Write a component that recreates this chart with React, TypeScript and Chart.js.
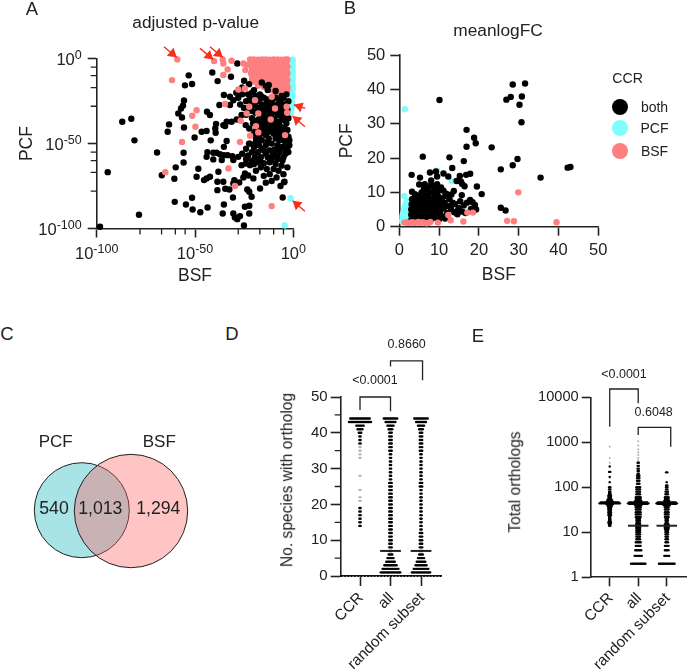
import React, { useEffect, useRef } from "react";
import { Chart, registerables } from "chart.js";
Chart.register(...registerables);

const FONT = '"Liberation Sans", Arial, sans-serif';
const INK = "#222222";
const BLACK = "#000000";
const CYAN = "#7ffdfd";
const PINK = "#fd7f7f";

// ---------- Panel A: exponents of the adjusted p-values (BSF, PCF)
const aBothX = [-98.3,-94.4,-87,-82.4,-80.8,-78.5,-69.3,-66.9,-59.8,-60.5,-60.3,-63.2,-63.9,-56.6,-55.6,-56.1,-57.1,-58.5,-55.6,-55.8,-55.8,-54.6,-53.2,-55.1,-51.5,-51.2,-51.5,-47.3,-43.6,-50.2,-46.6,-44.1,-42,-43.9,-42.4,-39.3,-39.7,-39.5,-48.3,-49.2,-45.4,-44.1,-42.4,-43.7,-44.1,-40.7,-39,-37.3,-36.4,-40.7,-38.6,-35.6,-38.6,-34.6,-32.5,-35.3,-35.9,-30.5,-29.7,-28.5,-27.1,-25.1,-24.6,-22.4,-22.4,-30.7,-23.4,-22.4,-21.2,-16.9,-20.3,-24.6,-22.9,-25.4,-30,-27.5,-30.5,-38.1,-35.3,-33.9,-35.3,-33.4,-31,-30.5,-28,-26.3,-24.1,-22,-35.6,-33.9,-31.4,-34.7,-37.6,-35.3,-32.2,-32.2,-28.8,-26.3,-24.2,-22.4,-19.5,-15.3,-28.5,-41.2,-38.5,-31.7,
-25,-22.5,-26,-20,-16,-14,-12.5,-9,-13,-21,-17,-29,-30.5,-28,-26,-24,-22,-19,-17.5,-15,-13,-11,-9,-7,-5,-3.5,-27,-25,-21,-18,-16,-14,-12,-9,-7,-5,-2.5,-6,-20,-23,
-19,-16,-14,-12,-10,-8,-6,-4,-2.5,-21,-18,-15,-13,-9.5,-7,-5,-3.5,-17,-14,-11,-9,-6.5,-4.5,-12.5,-15,-10,-7.5,-5,-2.5,-18.5,-20.5,-13,-8,-11,-6,
-19,-16,-12.5,-9,-7,-4,-2,-22.5,-20,-17.5,-14,-11,-8,-5.5,-3,-24,-21,-18,-15,-12,-9.5,-7,-4,-26,-23,-19.5,-16.5,-13,-10.5,-8,-5.5,-21,-18,-15,-12,-9,-6,-3,-16.5,-13.5,-10,-7.5,-19,-5,-12,-15,-8.5,-4.5,-11,-14,-6.5,-5.4,-4.7,
-23,-21.5,-19.5,-18,-16.5,-15,-13.5,-12,-10.5,-10,-8,-6.5,-4.5,-3,-24,-20.5,-17,-14.5,-11.5,-8.5,-5.5,-4,-19,-15.5,-12,-9,-7,-3,-16,-13,-10.5,-6,-4,-14,-9,-17.5,-20,-7.5,-5,-2,
-22,-19,-16,-13,-10,-7,-4,-24,-20,-17,-14,-11,-8,-5,-2.5];
const aBothY = [-99,-66.8,-37.1,-35.4,-48.1,-91.9,-55.2,-68.6,-64,-70.7,-84.3,-38.7,-43,-34.6,-24.6,-27.5,-29.3,-32.2,-40.5,-55.4,-61.1,-85.9,-9.8,-15.7,-14.9,-88.8,-81.9,-90.4,-87.6,-46.4,-43,-42.6,-48.1,-31.2,-33.2,-38.5,-41.1,-43.6,-64.8,-69.5,-71.5,-70.5,-69.5,-55,-57.8,-55.4,-55.4,-56.2,-59.7,-59.3,-72.5,-72.5,-77.4,-76.6,-77,-85.9,-91.2,-91.2,-93.5,-94.5,-92.7,-98.2,-87.2,-86.6,-91.2,-81.7,-77,-78.4,-81.3,-76.4,-70.5,-67.6,-68.8,-69.9,-71.5,-72.9,-73.5,-66.6,-56.8,-48.5,-51.9,-56.8,-57.4,-59.7,-57.8,-62.7,-61.7,-62.7,-39.1,-37.1,-37.1,-39.7,-27.3,-21.4,-22.4,-27.3,-35.8,-33.2,-39.1,-41.1,-43,-42,-2.8,-8.1,-13.2,-10.6,
-13,-15,-17,-18.5,-14,-16,-15.5,-19,-18.5,-20,-21,-20,-24.5,-23,-21,-25,-23,-22,-25,-23,-24,-26,-23,-25,-23,-21,-27,-29,-28,-29,-27,-28,-30,-28,-29,-27,-25,-22,-26.5,-31,
-32,-31,-33,-32,-31.5,-33,-31,-33,-35,-35,-36,-35,-37,-36,-37,-36,-38,-39,-40,-39,-41,-40,-41,-43,-44,-44,-44,-45,-46,-41,-38,-34.5,-38.5,-34.5,-34,
-47,-48,-47,-47,-48,-49,-51,-50,-52,-51,-51,-50,-51,-52,-52.5,-53,-55,-55,-54,-54,-53.5,-55,-56,-56,-57,-58,-58,-58,-57,-59,-60,-60,-61,-61.5,-61,-62,-63,-64,-64,-65,-65,-66,-66,-68,-68,-69,-70,-72.5,-72,-73,-75,-81.7,-72.7,
-21,-25,-27,-24,-22,-29,-26,-28,-24,-31,-27,-24,-30,-30,-33,-31,-33,-30,-33,-30,-33,-27,-37,-38,-36,-39,-41,-42,-42,-41,-41,-43,-44,-45,-45,-46,-44,-47,-48,-48,
-50,-49,-53,-49,-55,-53,-54,-59,-62,-60,-56,-59,-57,-58,-55];
const aPcfX = [-0.3,-0.4,-0.3,-0.5,-0.3,-0.4,-0.3,-0.5,-0.4,-0.3,-0.6,-0.4,-0.8,-1,-0.5,-1.2,-0.7,-1.5,-1,-1.8,-1.2,-2,-1.4,-4.4];
const aPcfY = [-0.5,-2,-4,-6,-8,-10,-12,-14,-16,-18,-20,-21.5,-23,-24.5,-25.5,-27,-28,-29,-30,-31,-32,-33,-82.1,-98.2];
const aBlockX = [-22,-20.2,-18,-16,-14,-12,-10,-8,-6,-4,-3,-21.5,-19.5,-17.5,-15.5,-13.5,-11.5,-9.5,-7.5,-5.5,-3.5,-21,-19,-17,-15,-13,-11,-9,-7,-5,-3,-21,-19.5,-17.5,-15.5,-13.5,-11.5,-9.5,-7.5,-5.5,-3.5,-21.5,-19,-17,-15,-13,-11,-9,-7,-5,-3,-21,-19.5,-17.5,-15.5,-13.5,-11.5,-9.5,-7.5,-5.5,-3.5,-21,-19,-17,-15,-13,-11,-9,-7,-5,-3,-20,-17.5,-15.5,-13.5,-11.5,-9.5,-7.5,-5.5,-3.5,-18,-15,-13,-11,-9,-7,-5,-3,-13,-11,-9,-7,-5,-3,-9,-6,-3.5];
const aBlockY = [-0.5,-0.4,-0.6,-0.4,-0.5,-0.6,-0.4,-0.5,-0.6,-0.4,-0.5,-2.5,-2.4,-2.6,-2.5,-2.4,-2.6,-2.5,-2.4,-2.6,-2.5,-4.5,-4.6,-4.4,-4.5,-4.6,-4.4,-4.5,-4.6,-4.4,-4.5,-6.5,-6.4,-6.6,-6.5,-6.4,-6.6,-6.5,-6.4,-6.6,-6.5,-8.5,-8.6,-8.4,-8.5,-8.6,-8.4,-8.5,-8.6,-8.4,-8.5,-10.5,-10.4,-10.6,-10.5,-10.4,-10.6,-10.5,-10.4,-10.6,-10.5,-12.5,-12.6,-12.4,-12.5,-12.6,-12.4,-12.5,-12.6,-12.4,-12.5,-13.5,-14.4,-14.6,-14.5,-14.4,-14.6,-14.5,-14.4,-14.6,-16,-16.5,-16.4,-16.6,-16.5,-16.4,-16.6,-16.5,-18,-18.5,-18.4,-18.6,-18.5,-18.4,-20,-20.4,-20.6];
const aBsfX = [-59,-61.7,-49.2,-51.4,-49.8,-56.6,-65.1,-40.3,-35.9,-35.6,-31.4,-33.4,-35.6,-24.4,-23.4,-25.4,-34.7,-28,-26.8,-23.7,-19.5,-22.4,-19,-22,-17.8,-27.1,-33,-29.7,-11,-4.2,-3.1,-9.3,-11.5,-17.8,-3.4,-11,-24.6];
const aBsfY = [-0.4,-12.6,-30.3,-33.6,-40.1,-49.1,-66.8,-1.4,-0.4,-2.8,-1.2,-6.3,-9.6,-6.7,-3.7,-2.8,-26.7,-18.1,-36.5,-32.2,-24.4,-28.3,-39.7,-45.4,-43.4,-49.1,-64.6,-75,-86.8,-45,-31.8,-29.3,-35.8,-32.2,-28.3,-22.4,-17.5];
const aArrowTailX = [-65.8,-47.5,-42.4,6.1,5.9,5.9];
const aArrowTailY = [7.07,6.1,7.07,-29.3,-40.1,-89.8];
const aArrowTipX = [-59.3,-40.7,-35.9,0.34,-0.34,-0.34];
const aArrowTipY = [0.8,-0.4,0.8,-27.1,-33.8,-83.7];
const aMajor = [-100,-50,0];
const aMinorExp = [-78,-67,-60,-55,-28,-17,-10,-5];

// ---------- Panel B: meanlogFC (BSF, PCF)
const bBothX = [28.5,31.6,30.8,28,26.9,10.1,30.2,30.7,16.9,18.8,19.2,16.9,23.2,5.9,12.6,16.2,29.7,28.5,25.5,13.3,35.5,42.3,43,3.1,5.2,7.7,9.2,11.1,9.5,12.3,14.4,15.2,16.8,17.8,15.5,15.8,16.4,19.5,20.7,25.5,26.7,5,6.4,8,9.5,6.9,8.5,3.2,4.2,11.1,13.7,13.1,15.7,17.8,18.4,19,19.3,11.5,
3,3,3,3.1,3.2,3.5,3.7,3.6,4,4.2,3.9,4.3,4.5,4.4,4.7,4.9,5.2,5.2,5.4,5.5,5.7,5.9,5.6,6,6.2,6.3,6.5,6.6,6.8,6.1,7,7.1,7.3,7.5,7.6,7.2,7.8,7.9,8,8.2,8.3,8.5,8.4,8.8,9,9.1,9.3,9.4,9.6,9.7,10,10.2,10.4,10.6,10.3,10.8,9.9,11,11.2,11.4,11.6,12,12.3,12.6,13,13.4,13.8,14,14.6,15,15.3,15.8,16.2,16.6,17,8,10.5,11.8,7,14.8,18,9.2,6.2];
const bBothY = [41.4,41.7,37.9,37.8,37,36.9,35.5,30.4,28.2,25.9,24.3,23.3,23.1,20.4,20.2,19.1,19.7,17.9,16.7,17.1,14.3,17.2,17.4,15.1,14.3,15.8,16.1,15.5,14.6,14.6,13.3,14.8,15.1,15.4,13.1,12.4,11.8,11.7,9.5,5.5,4.7,12.3,12.4,13.5,12.4,11.2,11.5,10.2,9.2,10.5,10.4,9.4,9.2,7.8,7.1,6.3,5,2.4,
2,3.5,5,6.5,8,2.5,4,5.5,7,8.5,9.5,2,3.2,4.6,6,7.6,9,2.4,3.8,5,6.6,8,10,2,3,4.4,5.6,7.2,8.6,9.4,2.4,3.6,4.8,6,7.6,9.2,10,2,3.2,4.4,5.4,6.8,8.2,9.6,2.6,3.8,5,6.2,7.6,9,2.2,3.4,4.8,6,7.2,8.4,10.6,3,5.5,7,9,4,6,8,5.2,7,4.2,6.6,3.6,5.4,7.4,4.4,6.2,4,7,12.2,11.4,9.6,10.8,5,5.2,10.6,11];
const bPcfX = [1.4,1.3,13.2,9.5,0.7,0.8,1,0.8,1.1,1.5,1,1.4,1.9,1.2,1.6,2.1,1.4,1.9,2.4,1.7,2.2,2.6,2,2.5,7.7,9.4,0.9,1.2,1.7,2.3];
const bPcfY = [34.2,8.9,13.3,16.3,1.5,2.2,1.8,3,3.2,2.8,4,4.2,3.8,5,5.2,4.8,6,6,5.8,7,7,6.8,7.4,7.2,6.7,6.4,3.6,2.4,2.2,2.6];
const bBsfUnderX = [4.8,5.2,7.7,6.4,8.9];
const bBsfUnderY = [6.3,4.4,4.4,5.8,4];
const bBsfX = [29.9,27.1,28.8,39.5,17.1,18.5,16.1,12.9,12.3,9.7,1.3,1.8,2.3,2.8,3.3,3.8,4.3,4.8,5.3,5.8,6.3,6.8,7.3,7.8];
const bBsfY = [10,1.7,1.6,1.3,4.1,4.1,1.5,1.9,3.4,1.2,1.2,1.3,1.1,1.2,1.3,1.1,1.2,1.4,1.1,1.3,1.2,1,1.1,1.4];
const bTicks = [0,10,20,30,40,50];

// ---------- Panel C: Venn
const vennPcf = { x: 81.8, y: 69.8, r: 47.5 };
const vennBsf = { x: 131, y: 69, r: 56.7 };

// ---------- Panel D: species count per ortholog group (value, number of dots)
const dGroups = ["CCR", "all", "random subset"];
const dCcrValues = [44,43,42,41,40,39,38,37,19,18,17,16,15,14];
const dCcrCounts = [17,19,7,5,3,2,2,2,2,2,2,2,2,2];
const dCcrFaint = [36,35,34,33,28,24,22,21];
const dAllValues = [44,43,42,41,40,39,38,37,36,35,34,33,32,31,30,29,28,27,26,25,24,23,22,21,20,19,18,17,16,15,14,13,12,11,10,9,8,7,6,5,4,3,2,1];
const dAllCounts = [12,9,6,4,3,3,3,3,3,3,2,2,2,2,2,2,2,2,3,3,3,3,3,3,3,3,3,3,3,3,3,3,3,3,3,3,3,3,4,6,8,11,14,17];
const dRndCounts = [12,9,6,4,3,3,3,3,3,3,2,2,2,2,2,2,2,2,3,3,2,2,2,2,2,2,2,2,2,2,2,2,3,3,3,3,3,3,4,6,8,10,13,16];
const dZeroCount = 31;
const dMedianAll = 7;
const dMedianRnd = 7;
const dMinor = [5,15,25,35,45];

// ---------- Panel E: total orthologs (value, number of dots)
const eCcrValues = [14,15,16,17,18,19,20,22,24,26,28,30,32,34,36,38,40,42,44,46,48,50,54,58,62,66,70,75,80,90,100,130,170,220,290];
const eCcrCounts = [2,2,3,3,2,2,2,2,3,3,3,3,3,3,3,4,4,6,18,16,6,5,4,3,3,3,2,2,2,2,2,1,1,2,1];
const eCcrFaint = [350,450,800];
const eAllValues = [2,3,4,5,6,7,8,9,10,11,12,13,14,15,16,18,20,22,25,28,32,36,40,43,44,46,50,55,60,70,80,90,100,120,140,160,180,200,230,260,300,350];
const eAllCounts = [13,7,6,5,5,4,4,4,4,4,4,4,4,4,4,4,4,5,5,5,5,5,6,16,18,16,6,5,5,4,4,4,4,3,3,3,3,2,2,2,2,2];
const eAllFaint = [400,450,520,600,700,850,1050];
const eRndValues = [2,3,4,5,6,7,8,9,10,11,12,13,14,15,16,18,20,22,25,28,32,36,40,43,44,46,50,55,60,70,80,90,100,110,130,215];
const eRndCounts = [14,5,4,4,3,3,3,3,3,3,4,4,4,4,3,3,3,4,4,4,4,4,6,16,18,16,5,4,4,3,3,2,2,2,1,2];
const eMedianAll = 14;
const eMedianRnd = 14;
const eTicks = [1,10,100,1000,10000];

type Box = { l: number; t: number; r: number; b: number };
type Pt = { x: number; y: number };

// lays the dots of one swarm row side by side around its group
function swarm(group: number, values: number[], counts: number[], gap: number): Pt[] {
  const pts: Pt[] = [];
  values.forEach((v, i) => {
    const n = counts[i];
    for (let j = 0; j < n; j++) pts.push({ x: group + (j - (n - 1) / 2) * gap, y: v });
  });
  return pts;
}
const pairs = (xs: number[], ys: number[]): Pt[] => xs.map((x, i) => ({ x, y: ys[i] }));
const logPairs = (xs: number[], ys: number[]): Pt[] => xs.map((x, i) => ({ x: 10 ** x, y: 10 ** ys[i] }));

const dots = (data: Pt[], color: string, radius: number) => ({
  data, backgroundColor: color, borderColor: color, borderWidth: 0, pointRadius: radius, showLine: false, clip: false as const,
});
const path = (data: Pt[], width: number) => ({
  data, borderColor: INK, borderWidth: width, pointRadius: 0, showLine: true, fill: false, tension: 0, clip: false as const,
});

function axisStyle(size: number, tickLength: number, pad = 5) {
  return {
    border: { color: INK, width: 1.6 },
    grid: { display: true, drawOnChartArea: false, drawTicks: true, tickLength, tickColor: INK, tickWidth: 1.6 },
    ticks: { color: INK, font: { family: FONT, size }, autoSkip: false, padding: pad, maxRotation: 0, minRotation: 0 },
  };
}

function minorTicks(xVals: number[], yVals: number[], len: number) {
  return {
    id: "minorTicks",
    afterDraw(chart: any) {
      const { ctx, scales, chartArea } = chart;
      ctx.save();
      ctx.strokeStyle = INK;
      ctx.lineWidth = 1.3;
      ctx.beginPath();
      xVals.forEach((v) => {
        const p = scales.x.getPixelForValue(v);
        ctx.moveTo(p, chartArea.bottom);
        ctx.lineTo(p, chartArea.bottom + len);
      });
      yVals.forEach((v) => {
        const p = scales.y.getPixelForValue(v);
        ctx.moveTo(chartArea.left, p);
        ctx.lineTo(chartArea.left - len, p);
      });
      ctx.stroke();
      ctx.restore();
    },
  };
}

const arrowPlugin = {
  id: "arrows",
  afterDraw(chart: any) {
    const { ctx, scales } = chart;
    ctx.save();
    ctx.strokeStyle = "#f4301c";
    ctx.fillStyle = "#f4301c";
    ctx.lineWidth = 1.4;
    aArrowTipX.forEach((_, i) => {
      const x0 = scales.x.getPixelForValue(10 ** aArrowTailX[i]);
      const y0 = scales.y.getPixelForValue(10 ** aArrowTailY[i]);
      const x1 = scales.x.getPixelForValue(10 ** aArrowTipX[i]);
      const y1 = scales.y.getPixelForValue(10 ** aArrowTipY[i]);
      const a = Math.atan2(y1 - y0, x1 - x0);
      ctx.beginPath();
      ctx.moveTo(x0, y0);
      ctx.lineTo(x1, y1);
      ctx.stroke();
      ctx.beginPath();
      ctx.moveTo(x1, y1);
      ctx.lineTo(x1 - 10 * Math.cos(a - 0.55), y1 - 10 * Math.sin(a - 0.55));
      ctx.lineTo(x1 - 10 * Math.cos(a + 0.55), y1 - 10 * Math.sin(a + 0.55));
      ctx.closePath();
      ctx.fill();
    });
    ctx.restore();
  },
};

// power-of-ten tick labels with a raised exponent
const powerLabels = {
  id: "powerLabels",
  afterDraw(chart: any) {
    const { ctx, scales, chartArea } = chart;
    const baseFont = `16.5px ${FONT}`;
    const expFont = `12.5px ${FONT}`;
    const put = (exp: number, xc: number | null, xr: number | null, yc: number) => {
      const es = String(exp);
      ctx.font = baseFont;
      const w1 = ctx.measureText("10").width;
      ctx.font = expFont;
      const w2 = ctx.measureText(es).width;
      const x0 = xr !== null ? xr - w1 - w2 : (xc as number) - (w1 + w2) / 2;
      ctx.fillStyle = INK;
      ctx.textBaseline = "middle";
      ctx.textAlign = "left";
      ctx.font = baseFont;
      ctx.fillText("10", x0, yc);
      ctx.font = expFont;
      ctx.fillText(es, x0 + w1, yc - 5);
    };
    ctx.save();
    aMajor.forEach((e) => {
      put(e, scales.x.getPixelForValue(10 ** e), null, chartArea.bottom + 26);
      put(e, null, chartArea.left - 15, scales.y.getPixelForValue(10 ** e) + 2);
    });
    ctx.restore();
  },
};

const setTicks = (vals: number[]) => (s: any) => { s.ticks = vals.map((value) => ({ value })); };

function frame(box: Box, plot: Box, scales: any, topFirst: any[], plugins: any[] = []) {
  scales.x.afterFit = (s: any) => { s.height = box.b - plot.b; };
  scales.y.afterFit = (s: any) => { s.width = plot.l - box.l; };
  return {
    type: "scatter",
    data: { datasets: topFirst },
    plugins,
    options: {
      animation: false, responsive: false, events: [],
      layout: { autoPadding: false, padding: { left: 0, top: plot.t - box.t, right: box.r - plot.r, bottom: 0 } },
      plugins: { legend: { display: false }, tooltip: { enabled: false }, title: { display: false } },
      scales,
    },
  };
}

const groupAxis = (size: number, tickLen: number, min: number, max: number) => {
  const a = axisStyle(size, tickLen);
  return {
    type: "linear", min, max, ...a,
    afterBuildTicks: setTicks([1, 2, 3]),
    ticks: { ...a.ticks, maxRotation: 45, minRotation: 45, padding: 3, labelOffset: 1, callback: (v: number) => dGroups[v - 1] ?? "" },
  };
};

const boxA: Box = { l: 0, t: 0, r: 325, b: 290 };
const plotA: Box = { l: 96.7, t: 58.7, r: 293.3, b: 228.5 };
const expAxis = (title: string, pad: number) => {
  const a = axisStyle(16.5, 9);
  return {
    type: "logarithmic", min: 1e-100, max: 1, ...a,
    afterBuildTicks: setTicks(aMajor.map((e) => 10 ** e)),
    ticks: { ...a.ticks, display: false },
    title: { display: true, text: title, color: INK, padding: pad, font: { family: FONT, size: 17.5 } },
  };
};
const configA = () => frame(boxA, plotA,
  { x: expAxis("BSF", 3.5), y: expAxis("PCF", 16.5) },
  [
    dots(logPairs(aBsfX, aBsfY), PINK, 3.2),
    dots(logPairs(aBothX, aBothY), BLACK, 3.2),
    dots(logPairs(aBlockX, aBlockY), PINK, 3.2),
    dots(logPairs(aPcfX, aPcfY), CYAN, 3.2),
  ],
  [minorTicks(aMinorExp.map((e) => 10 ** e), aMinorExp.map((e) => 10 ** e), 6), arrowPlugin, powerLabels]);

const boxB: Box = { l: 330, t: 0, r: 687, b: 290 };
const plotB: Box = { l: 399.3, t: 55, r: 598.3, b: 226.7 };
const numAxis = (title: string, pad: number) => {
  const a = axisStyle(16.5, 9);
  return {
    type: "linear", min: 0, max: 50, ...a,
    afterBuildTicks: setTicks(bTicks),
    title: { display: true, text: title, color: INK, padding: pad, font: { family: FONT, size: 17.5 } },
  };
};
const configB = () => frame(boxB, plotB,
  { x: numAxis("BSF", 4.5), y: numAxis("PCF", 6.8) },
  [
    dots(pairs(bBsfX, bBsfY), PINK, 3.2),
    dots(pairs(bBothX, bBothY), BLACK, 3.2),
    dots(pairs(bBsfUnderX, bBsfUnderY), PINK, 3.2),
    dots(pairs(bPcfX, bPcfY), CYAN, 3.2),
  ]);

const boxC: Box = { l: 0, t: 440, r: 270, b: 580 };
const configC = () => ({
  type: "bubble",
  data: {
    datasets: [
      { data: [vennBsf], backgroundColor: "rgba(255,96,96,0.37)", borderColor: "#222", borderWidth: 1, clip: false },
      { data: [vennPcf], backgroundColor: "#a8e3e6", borderColor: "#222", borderWidth: 1, clip: false },
    ],
  },
  options: {
    animation: false, responsive: false, events: [],
    layout: { autoPadding: false, padding: 0 },
    plugins: { legend: { display: false }, tooltip: { enabled: false } },
    scales: { x: { type: "linear", display: false, min: 0, max: 270 }, y: { type: "linear", display: false, min: 0, max: 140 } },
  },
});

const boxD: Box = { l: 270, t: 330, r: 460, b: 669 };
const plotD: Box = { l: 340.7, t: 397, r: 441.7, b: 576 };
const configD = () => {
  const gap = 0.04;
  const y = axisStyle(15, 10, 3);
  return frame(boxD, plotD,
    {
      x: groupAxis(15.3, 10, 0.367, 3.678),
      y: { type: "linear", min: 0, max: 50, ...y, afterBuildTicks: setTicks([0, 10, 20, 30, 40, 50]) },
    },
    [
      path([{ x: 1, y: 46.4 }, { x: 1, y: 50 }, { x: 2, y: 50 }, { x: 2, y: 46 }], 1.3),
      path([{ x: 2, y: 58.5 }, { x: 2, y: 60.1 }, { x: 3.05, y: 60.1 }, { x: 3.05, y: 54.7 }], 1.3),
      path([{ x: 1.66, y: dMedianAll }, { x: 2.34, y: dMedianAll }], 2),
      path([{ x: 2.66, y: dMedianRnd }, { x: 3.34, y: dMedianRnd }], 2),
      dots(swarm(1, dCcrValues, dCcrCounts, gap), BLACK, 1.2),
      dots(swarm(2, dAllValues, dAllCounts, gap), BLACK, 1.2),
      dots(swarm(3, dAllValues, dRndCounts, gap), BLACK, 1.2),
      dots(swarm(2.02, [0], [dZeroCount], 0.108), BLACK, 1.1),
      dots(swarm(1, dCcrFaint, dCcrFaint.map(() => 2), gap), "#b0b0b0", 1.1),
    ],
    [minorTicks([], dMinor, 6)]);
};

const boxE: Box = { l: 460, t: 330, r: 687, b: 669 };
const plotE: Box = { l: 590.7, t: 397.3, r: 686.7, b: 577.3 };
const configE = () => {
  const gap = 0.042;
  const y = axisStyle(14.6, 9, 3);
  return frame(boxE, plotE,
    {
      x: groupAxis(15.3, 9, 0.333, 3.7),
      y: { type: "logarithmic", min: 1, max: 10000, ...y, afterBuildTicks: setTicks(eTicks), ticks: { ...y.ticks, callback: (v: number) => String(v) } },
    },
    [
      path([{ x: 1, y: 2230 }, { x: 1, y: 15300 }, { x: 2, y: 15300 }, { x: 2, y: 7360 }], 1.3),
      path([{ x: 2, y: 1455 }, { x: 2, y: 2154 }, { x: 3.14, y: 2154 }, { x: 3.14, y: 801 }], 1.3),
      path([{ x: 1.64, y: eMedianAll }, { x: 2.36, y: eMedianAll }], 2),
      path([{ x: 2.64, y: eMedianRnd }, { x: 3.36, y: eMedianRnd }], 2),
      dots(swarm(1, eCcrValues, eCcrCounts, gap), BLACK, 1.2),
      dots(swarm(2, eAllValues, eAllCounts, gap), BLACK, 1.2),
      dots(swarm(3, eRndValues, eRndCounts, gap), BLACK, 1.2),
      dots(swarm(1, eCcrFaint, eCcrFaint.map(() => 1), gap), "#b0b0b0", 1),
      dots(swarm(2, eAllFaint, eAllFaint.map(() => 1), gap), "#b0b0b0", 1),
    ]);
};

function Panel({ box, make }: { box: Box; make: () => any }) {
  const ref = useRef<HTMLCanvasElement>(null);
  useEffect(() => {
    const chart = new Chart(ref.current as HTMLCanvasElement, make());
    return () => chart.destroy();
  }, []);
  return (
    <canvas ref={ref} width={box.r - box.l} height={box.b - box.t}
      style={{ position: "absolute", left: box.l, top: box.t, width: box.r - box.l, height: box.b - box.t }} />
  );
}

function Txt({ x, y, size, children, rot }: { x: number; y: number; size: number; children: string; rot?: number }) {
  return (
    <div style={{
      position: "absolute", left: x, top: y, fontFamily: FONT, fontSize: size, lineHeight: 1, color: INK, whiteSpace: "nowrap",
      transform: `translate(-50%,-50%)${rot ? ` rotate(${rot}deg)` : ""}`,
    }}>{children}</div>
  );
}

const legendKeys = [
  { label: "both", color: BLACK, y: 106.7 },
  { label: "PCF", color: CYAN, y: 128.3 },
  { label: "BSF", color: PINK, y: 151 },
];

export default function App() {
  return (
    <div style={{ position: "absolute", left: 0, top: 0, width: 687, height: 669, overflow: "hidden", background: "#fff" }}>
      <Panel box={boxA} make={configA} />
      <Panel box={boxB} make={configB} />
      <Panel box={boxC} make={configC} />
      <Panel box={boxD} make={configD} />
      <Panel box={boxE} make={configE} />
      <Txt x={32} y={8.5} size={18.5}>A</Txt>
      <Txt x={350} y={7.5} size={18.5}>B</Txt>
      <Txt x={7} y={334} size={18.5}>C</Txt>
      <Txt x={232} y={334} size={18.5}>D</Txt>
      <Txt x={478} y={336} size={18.5}>E</Txt>
      <Txt x={195.7} y={22.7} size={17.3}>adjusted p-value</Txt>
      <Txt x={498} y={30.7} size={17.3}>meanlogFC</Txt>
      <Txt x={627.7} y={78.3} size={14.2}>CCR</Txt>
      {legendKeys.map((k) => (
        <React.Fragment key={k.label}>
          <div style={{ position: "absolute", left: 612, top: k.y - 8, width: 16, height: 16, borderRadius: 8, background: k.color }} />
          <Txt x={654.5} y={k.y} size={14}>{k.label}</Txt>
        </React.Fragment>
      ))}
      <Txt x={55.7} y={440.7} size={17}>PCF</Txt>
      <Txt x={159.3} y={440.7} size={17}>BSF</Txt>
      <Txt x={54} y={509.3} size={17.7}>540</Txt>
      <Txt x={100.3} y={509.3} size={17.7}>1,013</Txt>
      <Txt x={158.3} y={509.3} size={17.7}>1,294</Txt>
      <Txt x={406.7} y={344.3} size={12.5}>0.8660</Txt>
      <Txt x={375} y={380} size={12.5}>{"<0.0001"}</Txt>
      <Txt x={624} y={374} size={12.5}>{"<0.0001"}</Txt>
      <Txt x={653.7} y={411.7} size={12.5}>0.6048</Txt>
      <Txt x={287.3} y={480} size={15.6} rot={-90}>No. species with ortholog</Txt>
      <Txt x={515} y={481.7} size={15.6} rot={-90}>Total orthologs</Txt>
    </div>
  );
}
